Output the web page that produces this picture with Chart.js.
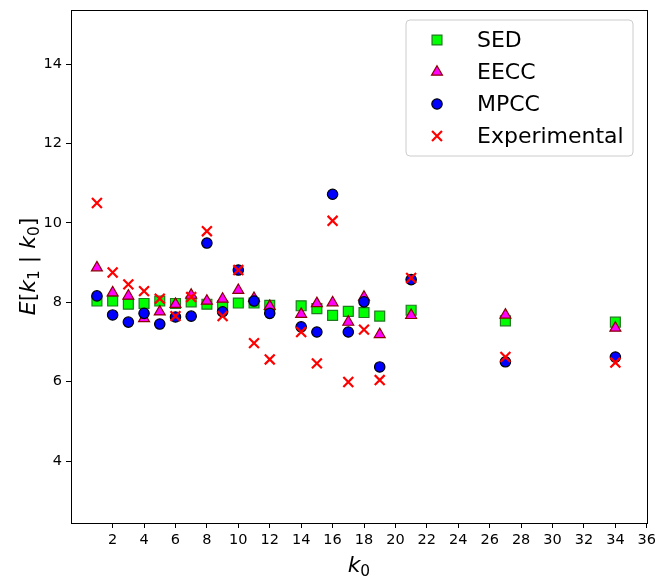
<!DOCTYPE html>
<html>
<head>
<meta charset="utf-8">
<script src="https://cdn.jsdelivr.net/npm/chart.js@4.4.1/dist/chart.umd.min.js"></script>
<style>
  html, body { margin: 0; padding: 0; background: #fff; }
  #wrap { width: 656px; height: 578px; }
</style>
</head>
<body>
<div id="wrap"><canvas id="scatterChart" width="656" height="578"></canvas></div>
<script>
// k0 values on the x axis
var k0 = [1, 2, 3, 4, 5, 6, 7, 8, 9, 10, 11, 12, 14, 15, 16, 17, 18, 19, 21, 27, 34];

// E[k1 | k0] per model
var sedValues  = [8.03, 8.03, 7.95, 7.97, 8.03, 7.97, 8.01, 7.95, 7.91, 7.98, 7.98, 7.92, 7.91, 7.84, 7.67, 7.77, 7.74, 7.65, 7.80, 7.53, 7.50];
var eeccValues = [8.87, 8.24, 8.16, 7.59, 7.76, 7.95, 8.18, 8.03, 8.08, 8.30, 8.10, 7.90, 7.70, 7.97, 7.99, 7.50, 8.13, 7.19, 7.67, 7.68, 7.35];
var mpccValues = [8.16, 7.68, 7.50, 7.72, 7.45, 7.63, 7.65, 9.49, 7.76, 8.81, 8.03, 7.72, 7.38, 7.25, 10.72, 7.25, 8.01, 6.37, 8.57, 6.50, 6.62];
var expValues  = [10.50, 8.75, 8.45, 8.28, 8.09, 7.65, 8.13, 9.79, 7.65, 8.81, 6.97, 6.56, 7.25, 6.46, 10.05, 5.99, 7.31, 6.04, 8.61, 6.62, 6.48];

var xTicks = [2, 4, 6, 8, 10, 12, 14, 16, 18, 20, 22, 24, 26, 28, 30, 32, 34, 36];
var yTicks = [4, 6, 8, 10, 12, 14];

var FONT = "'DejaVu Sans', sans-serif";

function toPoints(values) {
    var pts = [];
    for (var i = 0; i < k0.length; i++) {
        pts.push({ x: k0[i], y: values[i] });
    }
    return pts;
}

// draw a small mathtext-like string: segments of {t, it, sub}
function drawMath(ctx, segs, cx, cy, size) {
    var subSize = size * 0.7;
    var total = 0;
    segs.forEach(function (s) {
        ctx.font = (s.it ? 'italic ' : '') + (s.sub ? subSize : size) + 'px ' + FONT;
        s.w = ctx.measureText(s.t).width;
        total += s.w;
    });
    var x = cx - total / 2;
    ctx.textBaseline = 'alphabetic';
    ctx.textAlign = 'left';
    ctx.fillStyle = '#000';
    segs.forEach(function (s) {
        ctx.font = (s.it ? 'italic ' : '') + (s.sub ? subSize : size) + 'px ' + FONT;
        ctx.fillText(s.t, x, cy + size * 0.36 + (s.sub ? size * 0.2 : 0));
        x += s.w;
    });
}

var framePlugin = {
    id: 'frame',
    afterDraw: function (chart) {
        var ctx = chart.ctx;
        var a = chart.chartArea;
        ctx.save();
        ctx.strokeStyle = '#000';
        ctx.lineWidth = 1;
        ctx.strokeRect(Math.round(a.left) + 0.5, Math.round(a.top) + 0.5,
            Math.round(a.right - a.left), Math.round(a.bottom - a.top));

        // axis titles
        drawMath(ctx, [{ t: 'k', it: true }, { t: '0', sub: true }], (a.left + a.right) / 2, 564, 22);
        ctx.translate(27, (a.top + a.bottom) / 2);
        ctx.rotate(-Math.PI / 2);
        drawMath(ctx, [
            { t: 'E', it: true }, { t: '[' }, { t: 'k', it: true }, { t: '1', sub: true },
            { t: ' | ' }, { t: 'k', it: true }, { t: '0', sub: true }, { t: ']' }
        ], 0, 0, 22);
        ctx.restore();

        // legend box in the upper right
        ctx.save();
        var bx = 406, by = 20, bw = 227, bh = 136, r = 4;
        ctx.beginPath();
        ctx.moveTo(bx + r, by);
        ctx.arcTo(bx + bw, by, bx + bw, by + bh, r);
        ctx.arcTo(bx + bw, by + bh, bx, by + bh, r);
        ctx.arcTo(bx, by + bh, bx, by, r);
        ctx.arcTo(bx, by, bx + bw, by, r);
        ctx.closePath();
        ctx.fillStyle = 'rgba(255,255,255,0.8)';
        ctx.fill();
        ctx.strokeStyle = '#cccccc';
        ctx.lineWidth = 1;
        ctx.stroke();

        var rows = [40, 72, 104, 136];
        chart.data.datasets.forEach(function (ds, i) {
            ctx.fillStyle = ds.pointBackgroundColor;
            ctx.strokeStyle = ds.pointBorderColor;
            ctx.lineWidth = ds.pointBorderWidth;
            Chart.helpers.drawPoint(ctx, {
                pointStyle: ds.pointStyle,
                radius: ds.pointRadius,
                rotation: 0,
                borderWidth: ds.pointBorderWidth
            }, 437, rows[i]);
            ctx.fillStyle = '#000';
            ctx.font = '22px ' + FONT;
            ctx.textAlign = 'left';
            ctx.textBaseline = 'middle';
            ctx.fillText(ds.label, 477, rows[i] + 1);
        });
        ctx.restore();
    }
};

var ctx = document.getElementById('scatterChart').getContext('2d');
var scatterChart = new Chart(ctx, {
    type: 'scatter',
    data: {
        datasets: [{
            label: 'SED',
            data: toPoints(sedValues),
            pointStyle: 'rect',
            pointRadius: 7,
            pointBackgroundColor: '#00ff00',
            pointBorderColor: '#1f7a1f',
            pointBorderWidth: 1.2,
            order: 4
        }, {
            label: 'EECC',
            data: toPoints(eeccValues),
            pointStyle: 'triangle',
            pointRadius: 6.3,
            pointBackgroundColor: '#ff00ff',
            pointBorderColor: '#8b0000',
            pointBorderWidth: 1.2,
            order: 3
        }, {
            label: 'MPCC',
            data: toPoints(mpccValues),
            pointStyle: 'circle',
            pointRadius: 5.2,
            pointBackgroundColor: '#0000ff',
            pointBorderColor: '#000000',
            pointBorderWidth: 1.2,
            order: 2
        }, {
            label: 'Experimental',
            data: toPoints(expValues),
            pointStyle: 'crossRot',
            pointRadius: 7,
            pointBackgroundColor: '#ff0000',
            pointBorderColor: '#ff0000',
            pointBorderWidth: 2.2,
            order: 1
        }]
    },
    options: {
        responsive: false,
        animation: false,
        devicePixelRatio: 1,
        layout: { padding: { top: 10, right: 8, left: 0, bottom: 0 } },
        plugins: {
            legend: { display: false },
            tooltip: { enabled: false }
        },
        scales: {
            x: {
                type: 'linear',
                min: -0.65,
                max: 36,
                afterBuildTicks: function (scale) {
                    scale.ticks = xTicks.map(function (v) { return { value: v }; });
                },
                afterFit: function (scale) {
                    scale.height = 55;
                    scale.paddingLeft = 0;
                    scale.paddingRight = 0;
                },
                grid: { drawOnChartArea: false, drawTicks: true, tickLength: 5, color: '#000' },
                border: { display: true, color: '#000' },
                ticks: {
                    color: '#000',
                    padding: 4,
                    maxRotation: 0,
                    autoSkip: false,
                    font: { family: FONT, size: 14.5 }
                }
            },
            y: {
                type: 'linear',
                min: 2.44,
                max: 15.36,
                afterBuildTicks: function (scale) {
                    scale.ticks = yTicks.map(function (v) { return { value: v }; });
                },
                afterFit: function (scale) {
                    scale.width = 71;
                    scale.paddingTop = 0;
                    scale.paddingBottom = 0;
                },
                grid: { drawOnChartArea: false, drawTicks: true, tickLength: 5, color: '#000' },
                border: { display: true, color: '#000' },
                ticks: {
                    color: '#000',
                    padding: 4,
                    autoSkip: false,
                    font: { family: FONT, size: 14.5 }
                }
            }
        }
    },
    plugins: [framePlugin]
});
</script>
</body>
</html>
